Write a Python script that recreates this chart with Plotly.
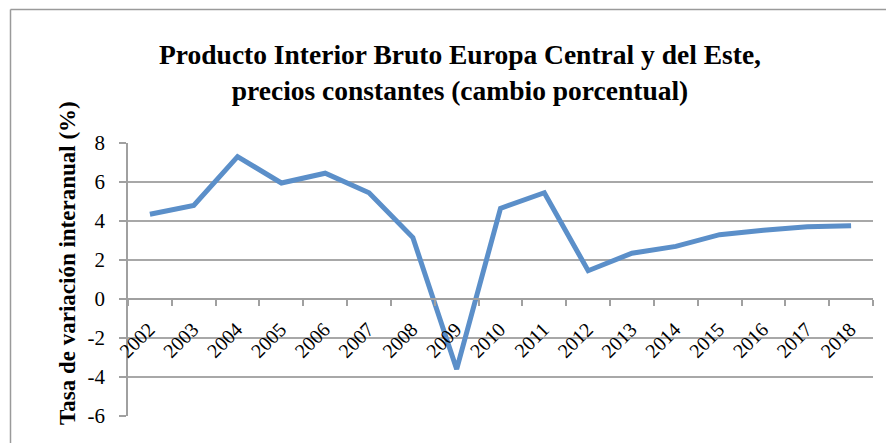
import plotly.graph_objects as go

years = ["2002", "2003", "2004", "2005", "2006", "2007", "2008", "2009", "2010",
         "2011", "2012", "2013", "2014", "2015", "2016", "2017", "2018"]
pib = [4.35, 4.8, 7.3, 5.95, 6.45, 5.45, 3.15, -3.6, 4.65,
       5.45, 1.45, 2.35, 2.7, 3.3, 3.52, 3.7, 3.76]
y_ticks = [-6, -4, -2, 0, 2, 4, 6, 8]
y_labels = ["-6", "-4", "-2", "0", "2", "4", "6", "8"]

# the page adds an 8px body margin, so the figure is laid out 8px up/left
W, H = 894, 443
L, T = 120, 135
pw, ph = 745, 273
R, B = W - L - pw, H - T - ph

serif = "Liberation Serif, Times New Roman, serif"

fig = go.Figure()
fig.add_trace(go.Scatter(
    x=years, y=pib, mode="lines",
    line=dict(color="#5B8FC9", width=5),
    showlegend=False,
))

fig.update_layout(
    width=W, height=H,
    margin=dict(l=L, r=R, t=T, b=B),
    paper_bgcolor="white", plot_bgcolor="white",
    font=dict(family=serif, color="black"),
    title=dict(
        text="<b>Producto Interior Bruto Europa Central y del Este,<br>precios constantes (cambio porcentual)</b>",
        x=452 / W, xanchor="center", y=1 - 56 / H, yanchor="top",
        font=dict(size=27.5, family=serif, color="black"),
    ),
)

fig.update_xaxes(
    type="category", range=[-0.5, len(years) - 0.5],
    anchor="free", position=6 / 14,
    showline=True, linecolor="#A0A0A0", linewidth=1.5,
    ticks="outside", ticklen=6, tickcolor="#A0A0A0", tickwidth=1.5,
    tickson="boundaries",
    tickangle=-45,
    ticklabelstandoff=10, ticklabelshift=-1,
    tickfont=dict(size=20, family=serif, color="black"),
    showgrid=False, zeroline=False,
)

fig.update_yaxes(
    range=[-6, 8], tickvals=y_ticks, ticktext=y_labels,
    showline=True, linecolor="#A0A0A0", linewidth=1.5,
    ticks="outside", ticklen=7, tickcolor="#A0A0A0", tickwidth=1.5,
    ticklabelstandoff=10,
    showgrid=True, gridcolor="#A8A8A8", gridwidth=1.5,
    zeroline=False,
    tickfont=dict(size=21, family=serif, color="black"),
)

fig.add_annotation(
    text="<b>Tasa de variación interanual (%)</b>",
    xref="paper", yref="paper",
    x=(59 - L) / pw, y=(T + ph - 255) / ph,
    xanchor="center", yanchor="middle",
    textangle=-90, showarrow=False,
    font=dict(size=23, family=serif, color="black"),
)

# chart frame (top and left edges visible in the reference)
fx = (2.5 - L) / pw
fy = (T + ph - 1.5) / ph
fig.add_shape(type="line", xref="paper", yref="paper", x0=fx, x1=(W - L) / pw,
              y0=fy, y1=fy, line=dict(color="#9A9A9A", width=1.5))
fig.add_shape(type="line", xref="paper", yref="paper", x0=fx, x1=fx,
              y0=fy, y1=-B / ph, line=dict(color="#9A9A9A", width=1.5))

fig.write_html("out.html")
